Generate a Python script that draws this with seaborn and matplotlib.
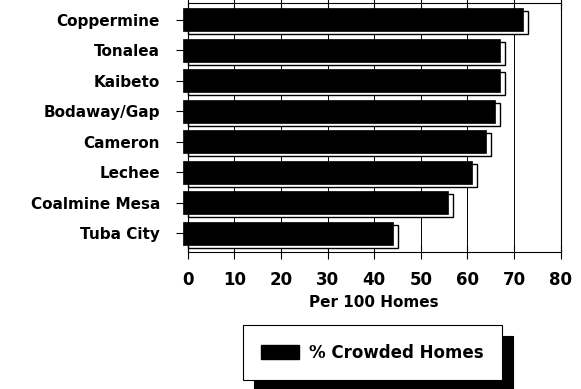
import matplotlib
matplotlib.use('Agg')
import matplotlib.pyplot as plt
import matplotlib.transforms as mtransforms
from matplotlib.patches import Patch
import seaborn as sns
import pandas as pd

districts = ["Coppermine", "Tonalea", "Kaibeto", "Bodaway/Gap", "Cameron",
             "Lechee", "Coalmine Mesa", "Tuba City"]
crowded = [73, 68, 68, 67, 65, 62, 57, 45]
x_ticks = [0, 10, 20, 30, 40, 50, 60, 70, 80]
x_label = "Per 100 Homes"
legend_label = "% Crowded Homes"

sns.set_theme(style='white')
plt.rcParams['font.family'] = ['DejaVu Sans']
plt.rcParams['text.color'] = 'black'
plt.rcParams['axes.labelcolor'] = 'black'
plt.rcParams['xtick.color'] = 'black'
plt.rcParams['ytick.color'] = 'black'

df = pd.DataFrame({'District': districts, 'Value': crowded})

fig = plt.figure(figsize=(5.81, 3.89), dpi=100)
W, H = 581, 389
ax = fig.add_axes([187.7 / W, 1 - 251.7 / H, (560.7 - 187.7) / W, (251.7 - 3) / H])

# base (white "3D" side) bars
sns.barplot(data=df, y='District', x='Value', orient='h', color='white',
            edgecolor='black', linewidth=1.0, width=0.76, saturation=1, ax=ax)
n_base = len(ax.patches)
# black front faces
sns.barplot(data=df, y='District', x='Value', orient='h', color='black',
            edgecolor='black', linewidth=0.5, width=0.76, saturation=1, ax=ax)

base_off = mtransforms.ScaledTranslation(0, -3 / 100, fig.dpi_scale_trans)
face_off = mtransforms.ScaledTranslation(-5 / 100, 0, fig.dpi_scale_trans)
for p in ax.patches[:n_base]:
    p.set_transform(ax.transData + base_off)
    p.set_clip_on(False)
    p.set_zorder(2)
for p in ax.patches[n_base:]:
    p.set_transform(ax.transData + face_off)
    p.set_clip_on(False)
    p.set_zorder(3)

ax.set_xlim(0, 80)
ax.set_xticks(x_ticks)
ax.set_ylim(7.6, -0.55)
ax.set_axisbelow(True)
ax.grid(axis='x', color='black', linewidth=0.7)
ax.grid(axis='y', visible=False)
for s in ax.spines.values():
    s.set_color('black')
    s.set_linewidth(0.8)

ax.tick_params(axis='y', left=True, length=9, width=0.8, color='black', pad=11,
               labelsize=11, labelcolor='black')
ax.tick_params(axis='x', bottom=True, top=True, direction='inout', length=10,
               width=0.8, color='black', pad=9, labelsize=12, labelcolor='black')
for lbl in ax.get_yticklabels() + ax.get_xticklabels():
    lbl.set_fontweight('bold')
ax.set_ylabel('')
ax.set_xlabel(x_label, fontsize=11, fontweight='bold', labelpad=4, color='black')

leg = fig.legend(handles=[Patch(facecolor='black', edgecolor='black', label=legend_label)],
                 loc='center', bbox_to_anchor=(372.5 / W, 1 - 352.5 / H),
                 frameon=True, fancybox=False, edgecolor='black', framealpha=1,
                 shadow={'ox': 8, 'oy': -8, 'facecolor': 'black',
                         'edgecolor': 'black', 'alpha': 1},
                 prop={'size': 12, 'weight': 'bold'},
                 handlelength=2.3, handleheight=0.9, borderpad=1.1,
                 handletextpad=0.6)
leg.get_frame().set_linewidth(0.8)
for t in leg.get_texts():
    t.set_color('black')

fig.savefig('out.png', dpi=100)
